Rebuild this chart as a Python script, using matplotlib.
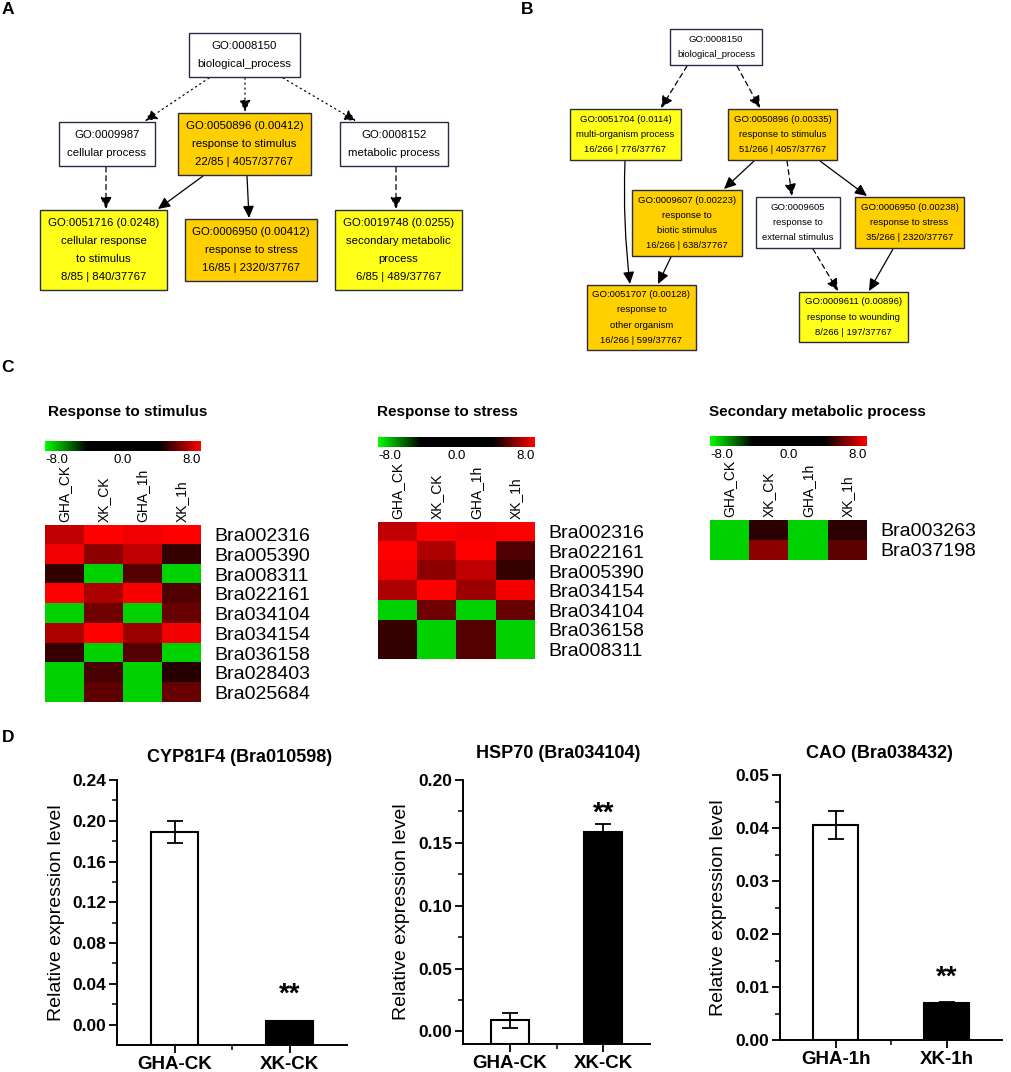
import matplotlib.pyplot as plt
import matplotlib.patches as mpatches
from matplotlib.colors import LinearSegmentedColormap
import numpy as np

plt.rcParams['font.family'] = ['Liberation Sans', 'DejaVu Sans']

# ---------------- data ----------------
# panel A: GO graph (response to stimulus set)
a_labels = [
    ['GO:0008150', 'biological_process'],
    ['GO:0009987', 'cellular process'],
    ['GO:0050896 (0.00412)', 'response to stimulus', '22/85 | 4057/37767'],
    ['GO:0008152', 'metabolic process'],
    ['GO:0051716 (0.0248)', 'cellular response', 'to stimulus', '8/85 | 840/37767'],
    ['GO:0006950 (0.00412)', 'response to stress', '16/85 | 2320/37767'],
    ['GO:0019748 (0.0255)', 'secondary metabolic', 'process', '6/85 | 489/37767'],
]
a_fill = ['w', 'w', 'o', 'w', 'y', 'o', 'y']
a_links = [(0, 1, 'dot'), (0, 2, 'dot'), (0, 3, 'dot'), (1, 4, 'dash'),
           (2, 4, 'solid'), (2, 5, 'solid'), (3, 6, 'dash')]

# panel B: GO graph
b_labels = [
    ['GO:0008150', 'biological_process'],
    ['GO:0051704 (0.0114)', 'multi-organism process', '16/266 | 776/37767'],
    ['GO:0050896 (0.00335)', 'response to stimulus', '51/266 | 4057/37767'],
    ['GO:0009607 (0.00223)', 'response to', 'biotic stimulus', '16/266 | 638/37767'],
    ['GO:0009605', 'response to', 'external stimulus'],
    ['GO:0006950 (0.00238)', 'response to stress', '35/266 | 2320/37767'],
    ['GO:0051707 (0.00128)', 'response to', 'other organism', '16/266 | 599/37767'],
    ['GO:0009611 (0.00896)', 'response to wounding', '8/266 | 197/37767'],
]
b_fill = ['w', 'y', 'o', 'o', 'w', 'o', 'o', 'y']
b_links = [(0, 1, 'dash'), (0, 2, 'dash'), (1, 6, 'solid'), (2, 3, 'solid'),
           (2, 4, 'dash'), (2, 5, 'solid'), (3, 6, 'solid'), (4, 7, 'dash'),
           (5, 7, 'solid')]

# panel C: heatmaps (log2 expression, -8..8)
samples = ['GHA_CK', 'XK_CK', 'GHA_1h', 'XK_1h']

stim_genes = ['Bra002316', 'Bra005390', 'Bra008311', 'Bra022161', 'Bra034104',
              'Bra034154', 'Bra036158', 'Bra028403', 'Bra025684']
stim_vals = [[6.9, 8.0, 7.7, 8.0],
             [7.7, 6.0, 6.9, 4.6],
             [4.5, -7.2, 5.1, -7.2],
             [8.0, 6.6, 7.9, 5.0],
             [-7.2, 5.5, -7.2, 5.4],
             [6.6, 8.0, 6.3, 7.8],
             [4.6, -7.2, 5.1, -7.2],
             [-7.2, 4.9, -7.2, 4.3],
             [-7.2, 5.3, -7.2, 5.4]]

stress_genes = ['Bra002316', 'Bra022161', 'Bra005390', 'Bra034154', 'Bra034104',
                'Bra036158', 'Bra008311']
stress_vals = [[6.9, 8.0, 7.8, 8.0],
               [8.0, 6.6, 8.0, 5.0],
               [7.7, 6.0, 6.9, 4.6],
               [6.6, 8.0, 6.3, 7.8],
               [-7.2, 5.5, -7.2, 5.4],
               [4.6, -7.2, 5.1, -7.2],
               [4.5, -7.2, 5.1, -7.2]]

sec_genes = ['Bra003263', 'Bra037198']
sec_vals = [[-7.2, 4.4, -7.2, 4.4],
            [-7.2, 6.0, -7.2, 5.3]]

# panel D: qRT-PCR
cyp_cats = ['GHA-CK', 'XK-CK']
cyp_vals = [0.189, 0.0035]
cyp_errs = [0.0105, 0.0005]

hsp_cats = ['GHA-CK', 'XK-CK']
hsp_vals = [0.009, 0.159]
hsp_errs = [0.006, 0.006]

cao_cats = ['GHA-1h', 'XK-1h']
cao_vals = [0.0406, 0.0069]
cao_errs = [0.0027, 0.0002]

# ---------------- figure ----------------
W, H = 1012, 1072
fig = plt.figure(figsize=(W / 100, H / 100), dpi=100)
fig.patch.set_facecolor('white')


def px_axes(x0, y0, x1, y1):
    # axes from pixel box (top-left origin)
    return fig.add_axes([x0 / W, 1 - y1 / H, (x1 - x0) / W, (y1 - y0) / H])


cv = px_axes(0, 0, W, H)
cv.set_xlim(0, W)
cv.set_ylim(H, 0)
cv.axis('off')

fills = {'w': 'white', 'o': '#ffcf00', 'y': '#ffff1a'}
styles = {'dot': (0, (1, 3)), 'dash': (0, (4, 3)), 'solid': '-'}

for lab, x, y in [('A', 8, 10), ('B', 527, 10), ('C', 8, 368), ('D', 8, 737)]:
    cv.text(x, y, lab, fontsize=12.5, fontweight='bold', ha='center', va='center')


def draw_go(boxes, labels, fill, links, pts, fs, lsp, rads=None):
    for (x0, y0, x1, y1), lines, f in zip(boxes, labels, fill):
        cv.add_patch(mpatches.Rectangle((x0, y0), x1 - x0, y1 - y0, facecolor=fills[f],
                                        edgecolor='#2a2a45', linewidth=1.0, zorder=2))
        cy = (y0 + y1) / 2
        n = len(lines)
        for i, t in enumerate(lines):
            cv.text((x0 + x1) / 2, cy + (i - (n - 1) / 2) * lsp, t, fontsize=fs,
                    ha='center', va='center', zorder=3)
    for k, ((a, b, st), (p0, p1)) in enumerate(zip(links, pts)):
        rad = 0 if rads is None else rads[k]
        cv.annotate('', xy=p1, xytext=p0,
                    arrowprops=dict(arrowstyle='-|>,head_length=0.6,head_width=0.28',
                                    mutation_scale=12, color='black', lw=0.9,
                                    linestyle=styles[st], shrinkA=0, shrinkB=0,
                                    connectionstyle='arc3,rad=%s' % rad), zorder=1)


a_boxes = [(189, 33, 300, 77), (59, 122, 155, 166), (178, 113, 311, 175),
           (340, 122, 448, 166), (40, 210, 167, 290), (185, 219, 317, 281),
           (335, 210, 462, 290)]
a_pts = [((209, 78), (145, 121)), ((245, 78), (245, 112)), ((283, 78), (356, 121)),
         ((106, 167), (106, 209)), ((203, 176), (158, 209)), ((247, 176), (249, 218)),
         ((396, 167), (396, 209))]
draw_go(a_boxes, a_labels, a_fill, a_links, a_pts, 8.2, 18.3)

b_boxes = [(670, 29, 762, 65), (570, 109, 681, 160), (728, 109, 837, 160),
           (632, 190, 742, 256), (756, 197, 840, 248), (855, 197, 964, 248),
           (587, 285, 696, 350), (799, 292, 908, 342)]
b_pts = [((687, 66), (661, 108)), ((737, 66), (760, 108)), ((625, 161), (630, 284)),
         ((754, 161), (724, 189)), ((787, 161), (792, 196)), ((820, 161), (867, 196)),
         ((671, 257), (658, 284)), ((813, 249), (838, 291)), ((893, 249), (869, 291))]
draw_go(b_boxes, b_labels, b_fill, b_links, b_pts, 6.8, 15.2,
        rads=[0, 0, 0.04, 0, 0, 0, 0, 0, 0])

# ---------------- heatmaps ----------------
cmap = LinearSegmentedColormap.from_list(
    'gkr', [(0, '#00ff00'), (0.27, '#000000'), (0.73, '#000000'), (1, '#ff0000')])


def draw_heatmap(title, genes, vals, x0, x1, cb_y, cell_y0, row_h, title_x):
    cv.text(title_x, 412, title, fontsize=11, fontweight='bold', ha='left', va='center')
    cb = px_axes(x0, cb_y, x1, cb_y + 10)
    cb.imshow(np.linspace(-8, 8, 256)[None, :], cmap=cmap, aspect='auto')
    cb.axis('off')
    for fx, t, ha in [(0, '-8.0', 'left'), (0.5, '0.0', 'center'), (1, '8.0', 'right')]:
        cb.text(fx, -0.3, t, transform=cb.transAxes, ha=ha, va='top', fontsize=9.5)
    n = len(genes)
    hm = px_axes(x0, cell_y0, x1, cell_y0 + n * row_h)
    hm.imshow(np.array(vals), cmap=cmap, vmin=-8, vmax=8, aspect='auto',
              interpolation='nearest')
    for s in hm.spines.values():
        s.set_visible(False)
    hm.xaxis.tick_top()
    hm.set_xticks(range(len(samples)))
    hm.set_xticklabels(samples, rotation=90, fontsize=10)
    hm.yaxis.tick_right()
    hm.set_yticks(range(n))
    hm.set_yticklabels(genes, fontsize=14)
    hm.tick_params(axis='x', length=0, pad=2.5)
    hm.tick_params(axis='y', length=0, pad=9.5)


draw_heatmap('Response to stimulus', stim_genes, stim_vals, 45, 201, 441, 525, 19.7, 48)
draw_heatmap('Response to stress', stress_genes, stress_vals, 378, 535, 437, 522, 19.6, 377)
draw_heatmap('Secondary metabolic process', sec_genes, sec_vals, 710, 867, 436, 520, 20, 709)

# ---------------- bar charts ----------------


def draw_bars(box, title, title_xy, cats, vals, errs, ylim, major, minor, star_y, lab_x):
    ax = px_axes(*box)
    x = np.arange(1, len(cats) + 1)
    ymin = ylim[0]
    ax.bar(x, np.array(vals) - ymin, bottom=ymin, width=0.41, color=['white', 'black'],
           edgecolor='black', linewidth=1.5, zorder=2)
    ax.errorbar(x, vals, yerr=errs, fmt='none', ecolor='black', elinewidth=1.3,
                capsize=6, capthick=1.3, zorder=3)
    ax.set_xlim(0.5, 2.5)
    ax.set_ylim(*ylim)
    ax.set_xticks(x)
    ax.set_xticklabels(cats, fontsize=13.5, fontweight='bold')
    ax.set_xticks([1.5], minor=True)
    ax.set_yticks(major)
    ax.set_yticklabels(['%.2f' % v for v in major], fontsize=12.5, fontweight='bold')
    ax.set_yticks(minor, minor=True)
    ax.tick_params(which='major', direction='out', length=6, width=1.3, pad=2)
    ax.tick_params(which='minor', direction='out', length=3.5, width=1.1)
    for s in ['top', 'right']:
        ax.spines[s].set_visible(False)
    for s in ['left', 'bottom']:
        ax.spines[s].set_linewidth(1.4)
    ax.set_ylabel('Relative expression level', fontsize=14)
    ax.yaxis.set_label_coords(lab_x, 0.5)
    ax.text(2, star_y, '**', ha='center', va='center', fontsize=20, fontweight='bold')
    cv.text(title_xy[0], title_xy[1], title, fontsize=13, fontweight='bold',
            ha='center', va='center')
    return ax


draw_bars((117, 780, 347, 1045), 'CYP81F4 (Bra010598)', (240, 757), cyp_cats, cyp_vals,
          cyp_errs, (-0.02, 0.24), np.arange(0, 0.241, 0.04), np.arange(0.02, 0.24, 0.04),
          0.029, -0.226)
draw_bars((463, 780, 650, 1044), 'HSP70 (Bra034104)', (558, 753), hsp_cats, hsp_vals,
          hsp_errs, (-0.01, 0.20), np.arange(0, 0.201, 0.05), np.arange(0.025, 0.2, 0.05),
          0.173, -0.283)
draw_bars((780, 775, 1002, 1040), 'CAO (Bra038432)', (879, 753), cao_cats, cao_vals,
          cao_errs, (0, 0.05), np.arange(0, 0.0501, 0.01), np.arange(0.005, 0.05, 0.01),
          0.0118, -0.239)

fig.savefig('out.png', dpi=100, facecolor='white')
